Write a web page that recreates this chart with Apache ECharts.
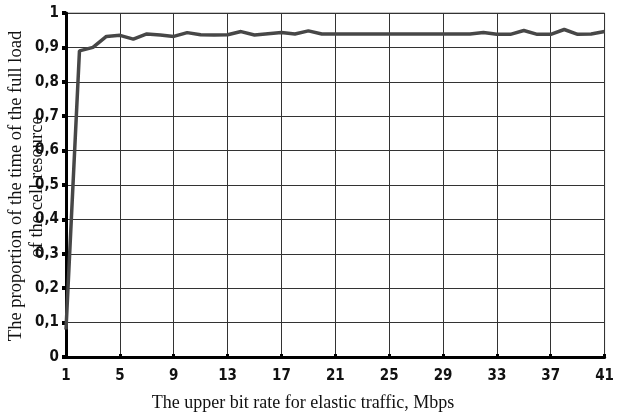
<!DOCTYPE html>
<html>
<head>
<meta charset="utf-8">
<script src="https://cdn.jsdelivr.net/npm/echarts@6/dist/echarts.min.js"></script>
<style>
html,body{margin:0;padding:0;background:#fff;}
#chart{width:617px;height:414px;}
</style>
</head>
<body>
<div id="chart"></div>
<script>
const categories = [];
for (let i = 1; i <= 41; i++) categories.push(String(i));
const loadShare = [
  0.08, 0.89, 0.90, 0.932, 0.935, 0.924, 0.939, 0.936, 0.932, 0.943,
  0.937, 0.936, 0.937, 0.946, 0.936, 0.940, 0.943, 0.939, 0.948, 0.939,
  0.939, 0.939, 0.939, 0.939, 0.939, 0.939, 0.939, 0.939, 0.939, 0.939,
  0.939, 0.943, 0.938, 0.938, 0.949, 0.938, 0.938, 0.952, 0.938, 0.939,
  0.946
];
const xTitle = 'The upper bit rate for elastic traffic, Mbps';
const yTitle1 = 'The proportion of the time of the full load';
const yTitle2 = 'of the cell resource';

const chart = echarts.init(document.getElementById('chart'));
const labelFont = '"Liberation Sans Narrow","DejaVu Sans Condensed","Liberation Sans",sans-serif';
const titleFont = '"Liberation Serif","DejaVu Serif",serif';
chart.setOption({
  animation: false,
  backgroundColor: '#fff',
  grid: { left: 66, right: 9, top: 13, bottom: 57, show: true, borderColor: '#888', borderWidth: 1 },
  xAxis: {
    type: 'category',
    data: categories,
    boundaryGap: false,
    axisLine: { lineStyle: { color: '#000', width: 3 } },
    axisTick: { show: true, inside: true, length: 3, interval: 3, lineStyle: { color: '#000', width: 3 } },
    axisLabel: { interval: 3, margin: 12, color: '#111', fontFamily: labelFont, fontWeight: 'bold', fontSize: 15 },
    splitLine: { show: true, interval: 3, lineStyle: { color: '#333', width: 1 } }
  },
  yAxis: {
    type: 'value',
    min: 0, max: 1, interval: 0.1,
    axisLine: { show: true, lineStyle: { color: '#000', width: 3 } },
    axisTick: { show: true, length: 4, lineStyle: { color: '#000', width: 4 } },
    axisLabel: {
      margin: 7, color: '#111', fontFamily: labelFont, fontWeight: 'bold', fontSize: 15,
      formatter: v => (Math.abs(v) < 1e-9 ? '0' : Math.abs(v - 1) < 1e-9 ? '1' : v.toFixed(1).replace('.', ','))
    },
    splitLine: { show: true, lineStyle: { color: '#333', width: 1 } }
  },
  series: [{
    type: 'line',
    data: loadShare,
    showSymbol: false,
    lineStyle: { color: '#474747', width: 3.5 },
    z: 5
  }],
  graphic: [
    { type: 'text', x: 303, y: 403, style: { text: xTitle, font: '18px ' + titleFont, fill: '#111', align: 'center', verticalAlign: 'middle' } },
    { type: 'text', x: 16, y: 186, rotation: Math.PI / 2, style: { text: yTitle1, font: '18.5px ' + titleFont, fill: '#111', align: 'center', verticalAlign: 'middle' } },
    { type: 'text', x: 37, y: 187, rotation: Math.PI / 2, style: { text: yTitle2, font: '18.5px ' + titleFont, fill: '#111', align: 'center', verticalAlign: 'middle' } }
  ]
});
</script>
</body>
</html>
